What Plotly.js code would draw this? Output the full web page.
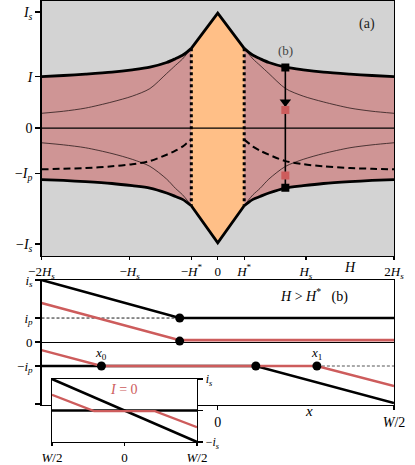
<!DOCTYPE html>
<html><head><meta charset="utf-8">
<script src="https://cdn.plot.ly/plotly-3.0.1.min.js"></script>
<style>html,body{margin:0;padding:0;background:#fff}#plot{width:415px;height:465px}</style>
</head><body><div id="plot"></div>
<script>
// ---------- Panel (a): H in units of H_s, current in units of I_s ----------
const H_right = [0.3, 0.35, 0.4, 0.48, 0.58, 0.77, 0.97, 1.2, 1.5, 1.75, 2.0];
const H_left  = [-2.0, -1.75, -1.5, -1.2, -0.97, -0.77, -0.58, -0.48, -0.4, -0.35, -0.3];
const upperThickRight = [0.687, 0.655, 0.628, 0.598, 0.565, 0.525, 0.502, 0.482, 0.465, 0.453, 0.443];
const upperThickLeft  = [0.443, 0.453, 0.465, 0.482, 0.502, 0.525, 0.565, 0.598, 0.628, 0.655, 0.687];
const lowerThickRight = [-0.670, -0.640, -0.615, -0.590, -0.560, -0.517, -0.497, -0.478, -0.462, -0.452, -0.445];
const lowerThickLeft  = [-0.445, -0.452, -0.462, -0.478, -0.497, -0.517, -0.560, -0.590, -0.615, -0.640, -0.670];
const upperThinRight = [0.687, 0.640, 0.595, 0.540, 0.470, 0.340, 0.275, 0.225, 0.172, 0.145, 0.127];
const upperThinLeft  = [0.127, 0.145, 0.172, 0.225, 0.275, 0.340, 0.470, 0.540, 0.595, 0.640, 0.687];
const lowerThinRight = [-0.670, -0.620, -0.575, -0.520, -0.440, -0.330, -0.270, -0.220, -0.170, -0.145, -0.127];
const lowerThinLeft  = [-0.127, -0.145, -0.170, -0.220, -0.270, -0.330, -0.440, -0.520, -0.575, -0.620, -0.670];
const dashedRight = [-0.100, -0.130, -0.160, -0.195, -0.230, -0.285, -0.312, -0.330, -0.345, -0.351, -0.356];
const dashedLeft  = [-0.356, -0.351, -0.345, -0.330, -0.312, -0.285, -0.230, -0.195, -0.160, -0.130, -0.100];
const H_core = [-0.3, 0, 0.3];
const coreTop = [0.687, 0.99, 0.687];
const coreBottom = [-0.670, -0.99, -0.670];
const H_star = [-0.3, 0.3];
const H_b = 0.767;
const bBlack = [0.522, -0.515];
const bRed = [0.155, -0.41];
const arrowTip = 0.225;
const aTickVals = [-2, -1, -0.3, 0, 0.3, 1, 2];
const aTickText = ['−2<i>H<sub>s</sub></i>', '−<i>H<sub>s</sub></i>', '−<i>H</i><sup>*</sup>', '0', '<i>H</i><sup>*</sup>', '<i>H<sub>s</sub></i>', '2<i>H<sub>s</sub></i>'];
const aYVals = [1, 0.443, 0, -0.39, -1];
const aYText = ['<i>I<sub>s</sub></i>', '<i>I</i>', '0', '−<i>I<sub>p</sub></i>', '−<i>I<sub>s</sub></i>'];

// ---------- Panel (b): x in units of W/2, current in units of i_s ----------
const bUpperBlackX = [-1, -0.216, 1];
const bUpperBlackY = [1, 0.387, 0.387];
const bUpperRedX = [-1, -0.216, 1];
const bUpperRedY = [0.63, 0.03, 0.03];
const bLowerRedX = [-1, -0.66, 0.5625, 1];
const bLowerRedY = [-0.13, -0.387, -0.387, -0.71];
const bLowerBlackX = [-1, 0.216, 1];
const bLowerBlackY = [-0.387, -0.387, -0.985];
const bDotsX = [-0.216, -0.216, -0.66, 0.216, 0.5625];
const bDotsY = [0.387, 0.015, -0.387, -0.387, -0.387];
const bYVals = [1, 0.387, 0, -0.387, -1];
const bYText = ['<i>i<sub>s</sub></i>', '<i>i<sub>p</sub></i>', '0', '−<i>i<sub>p</sub></i>', ''];

// ---------- Inset (I = 0) ----------
const inBlackDiagX = [-1, 1];
const inBlackDiagY = [1, -1];
const inBlackFlatX = [-1, 1];
const inBlackFlatY = [0, 0];
const inRedX = [-1, -0.42, 0.42, 1];
const inRedY = [0.5, -0.02, -0.02, -0.53];

const SERIF = 'Liberation Serif, DejaVu Serif, serif';
const ROSE = '#cf9595', ORANGE = '#ffbf87', GRAY = '#d3d3d3', RED = '#cd5c5c';

const t = [];
function L(x, y, o) { return Object.assign({x: x, y: y, mode: 'lines', hoverinfo: 'skip', xaxis: 'x', yaxis: 'y'}, o); }

// fills (a)
t.push(L(H_left, lowerThickLeft, {line: {width: 0, shape: 'spline', smoothing: 0.8}}));
t.push(L(H_left, upperThickLeft, {line: {width: 0, shape: 'spline', smoothing: 0.8}, fill: 'tonexty', fillcolor: ROSE}));
t.push(L(H_right, lowerThickRight, {line: {width: 0, shape: 'spline', smoothing: 0.8}}));
t.push(L(H_right, upperThickRight, {line: {width: 0, shape: 'spline', smoothing: 0.8}, fill: 'tonexty', fillcolor: ROSE}));
t.push(L(H_core, coreBottom, {line: {width: 0}}));
t.push(L(H_core, coreTop, {line: {width: 0}, fill: 'tonexty', fillcolor: ORANGE}));
// thin lines
[[H_left, upperThinLeft], [H_right, upperThinRight], [H_left, lowerThinLeft], [H_right, lowerThinRight]].forEach(p =>
  t.push(L(p[0], p[1], {line: {width: 0.8, color: '#2a1a1a', shape: 'spline', smoothing: 0.8}})));
// dashed
[[H_left, dashedLeft], [H_right, dashedRight]].forEach(p =>
  t.push(L(p[0], p[1], {line: {width: 2, color: '#000', dash: '7px,4px', shape: 'spline', smoothing: 0.8}})));
// dotted verticals
H_star.forEach((h, i) => t.push(L([h, h], [i === 0 ? upperThickLeft[upperThickLeft.length - 1] : upperThickRight[0], i === 0 ? lowerThickLeft[lowerThickLeft.length - 1] : lowerThickRight[0]], {line: {width: 3, color: '#000', dash: 'dot'}})));
// thick boundaries
[[H_left, upperThickLeft], [H_right, upperThickRight], [H_left, lowerThickLeft], [H_right, lowerThickRight]].forEach(p =>
  t.push(L(p[0], p[1], {line: {width: 2.8, color: '#000', shape: 'spline', smoothing: 0.8}})));
t.push(L(H_core, coreTop, {line: {width: 2.8, color: '#000'}}));
t.push(L(H_core, coreBottom, {line: {width: 2.8, color: '#000'}}));
// vertical path at H_b
t.push(L([H_b, H_b], bBlack, {line: {width: 1.6, color: '#000'}}));
t.push(L([H_b], [arrowTip], {mode: 'markers', marker: {symbol: 'triangle-down', size: 10, color: '#000'}}));
t.push(L([H_b, H_b], bRed, {mode: 'markers', marker: {symbol: 'square', size: 8, color: RED}}));
t.push(L([H_b, H_b], bBlack, {mode: 'markers', marker: {symbol: 'square', size: 8, color: '#000'}}));

// panel (b)
function B(x, y, o) { return Object.assign({x: x, y: y, mode: 'lines', hoverinfo: 'skip', xaxis: 'x2', yaxis: 'y2'}, o); }
t.push(B([bUpperBlackX[0], bUpperBlackX[1]], [bUpperBlackY[1], bUpperBlackY[1]], {line: {width: 0.9, color: '#000', dash: '3px,2px'}}));
t.push(B([bLowerRedX[2], bLowerRedX[3]], [bLowerRedY[2], bLowerRedY[2]], {line: {width: 1, color: '#555', dash: '3px,2px'}}));
t.push(B(bUpperBlackX, bUpperBlackY, {line: {width: 2.6, color: '#000'}}));
t.push(B(bUpperRedX, bUpperRedY, {line: {width: 2.6, color: RED}}));
t.push(B(bLowerBlackX, bLowerBlackY, {line: {width: 2.6, color: '#000'}}));
t.push(B(bLowerRedX, bLowerRedY, {line: {width: 2.4, color: RED}}));
t.push(B(bDotsX, bDotsY, {mode: 'markers', marker: {size: 9, color: '#000'}}));

// inset
function N(x, y, o) { return Object.assign({x: x, y: y, mode: 'lines', hoverinfo: 'skip', xaxis: 'x3', yaxis: 'y3'}, o); }
t.push(N(inBlackDiagX, inBlackDiagY, {line: {width: 2.6, color: '#000'}}));
t.push(N(inBlackFlatX, inBlackFlatY, {line: {width: 2.6, color: '#000'}}));
t.push(N(inRedX, inRedY, {line: {width: 2.4, color: RED}}));

const ax = {showgrid: false, zeroline: false, linecolor: '#000', linewidth: 1.3, mirror: true, ticks: 'outside', tickwidth: 1.3, tickcolor: '#000', tickfont: {family: SERIF, size: 14, color: '#000'}, fixedrange: true};

const layout = {
  width: 415, height: 465, margin: {l: 0, r: 0, t: 0, b: 0},
  paper_bgcolor: '#fff', plot_bgcolor: '#fff', showlegend: false,
  font: {family: SERIF, size: 14, color: '#000'},
  xaxis: Object.assign({}, ax, {domain: [0.1, 0.9494], range: [-2, 2], anchor: 'y', tickvals: aTickVals, ticktext: aTickText, ticklen: 3, tickfont: {family: SERIF, size: 13, color: '#000'}}),
  yaxis: Object.assign({}, ax, {domain: [0.4495, 0.9978], range: [-1.103, 1.095], anchor: 'x', tickvals: aYVals, ticktext: aYText, ticklen: 5}),
  xaxis2: Object.assign({}, ax, {domain: [0.1, 0.9494], range: [-1, 1], anchor: 'y2', tickvals: [0, 1], ticktext: ['0', '<i>W</i>/2'], ticklen: 4}),
  yaxis2: Object.assign({}, ax, {domain: [0.129, 0.3978], range: [-1.016, 1.0], anchor: 'x2', tickvals: bYVals, ticktext: bYText, ticklen: 5, zeroline: true, zerolinecolor: '#000', zerolinewidth: 1, tickfont: {family: SERIF, size: 13, color: '#000'}}),
  xaxis3: Object.assign({}, ax, {domain: [0.1253, 0.4747], range: [-1, 1], anchor: 'y3', tickvals: [-1, 0, 1], ticktext: ['<i>W</i>/2', '0', '<i>W</i>/2'], ticklen: 3, tickfont: {family: SERIF, size: 13, color: '#000'}}),
  yaxis3: Object.assign({}, ax, {domain: [0.0495, 0.1849], range: [-1, 1], anchor: 'x3', side: 'right', tickvals: [1, 0, -1], ticktext: ['<i>i<sub>s</sub></i>', '', '−<i>i<sub>s</sub></i>'], ticklen: 5, tickfont: {family: SERIF, size: 12, color: '#000'}}),
  shapes: [
    {type: 'rect', xref: 'x domain', yref: 'y domain', x0: 0, x1: 1, y0: 0, y1: 1, fillcolor: GRAY, line: {width: 0}, layer: 'below'},
    {type: 'line', xref: 'x domain', yref: 'y', x0: 0, x1: 1, y0: 0, y1: 0, line: {width: 1.2, color: '#000'}, layer: 'above'},
    {type: 'rect', xref: 'x3 domain', yref: 'y3 domain', x0: 0, x1: 1, y0: 0, y1: 1, fillcolor: '#ebebeb', line: {width: 0}, layer: 'below'}
  ],
  annotations: [
    {xref: 'paper', yref: 'paper', x: 377 / 415, y: 1 - 14 / 465, text: '(a)', showarrow: false, font: {size: 14, color: '#222'}},
    {xref: 'x', yref: 'y', x: H_b, y: 0.67, text: '(b)', showarrow: false, font: {size: 13, color: '#444'}},
    {xref: 'x', yref: 'paper', x: 1.5, y: 1 - 267 / 465, text: '<i>H</i>', showarrow: false, font: {size: 14}},
    {xref: 'paper', yref: 'paper', x: 350 / 415, y: 1 - 295 / 465, text: '<i>H</i> > <i>H</i><sup>*</sup>   (b)', showarrow: false, font: {size: 14}},
    {xref: 'x2', yref: 'y2', x: bLowerRedX[1], y: -0.19, text: '<i>x</i><sub>0</sub>', showarrow: false, font: {size: 13}},
    {xref: 'x2', yref: 'y2', x: bLowerRedX[2], y: -0.19, text: '<i>x</i><sub>1</sub>', showarrow: false, font: {size: 13}},
    {xref: 'x2', yref: 'paper', x: 0.52, y: 1 - 421 / 465, text: '<i>x</i>', showarrow: false, font: {size: 15}},
    {xref: 'x3', yref: 'y3', x: 0, y: 0.68, text: '<i>I</i> = 0', showarrow: false, font: {size: 14, color: RED}}
  ]
};

Plotly.newPlot('plot', t, layout, {staticPlot: true, displayModeBar: false});
</script>
</body></html>
